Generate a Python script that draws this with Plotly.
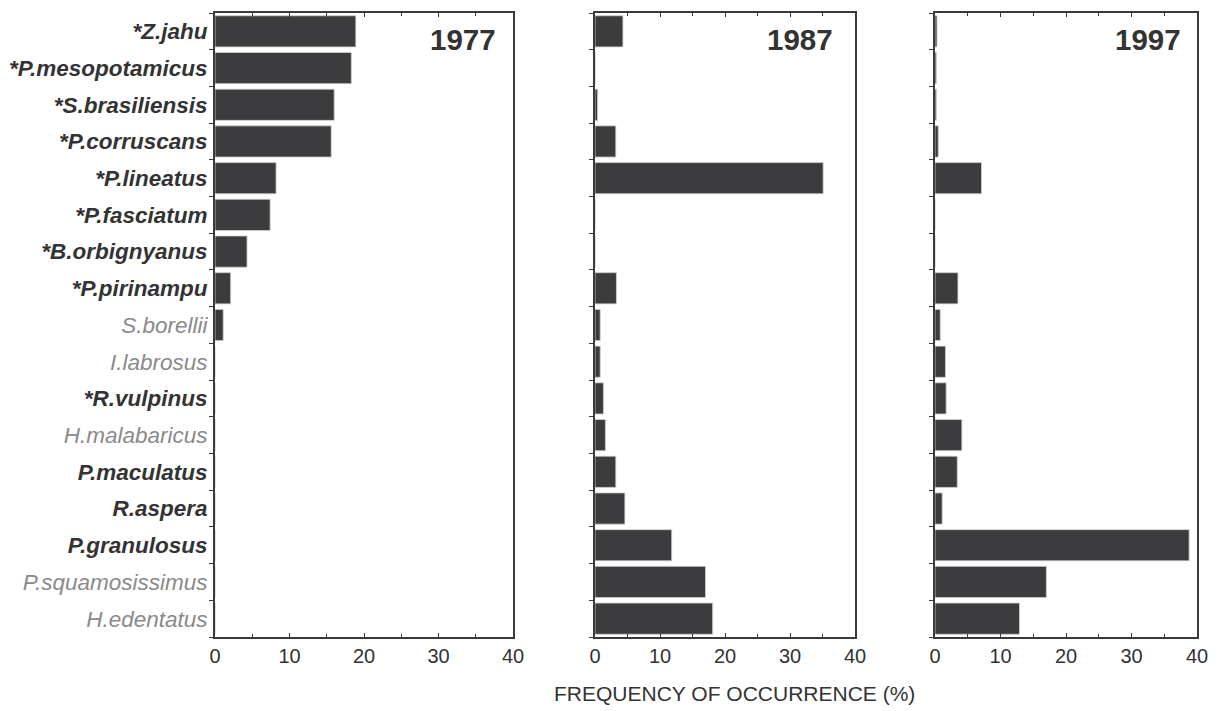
import plotly.graph_objects as go

species = ["*Z.jahu", "*P.mesopotamicus", "*S.brasiliensis", "*P.corruscans", "*P.lineatus",
           "*P.fasciatum", "*B.orbignyanus", "*P.pirinampu", "S.borellii", "I.labrosus",
           "*R.vulpinus", "H.malabaricus", "P.maculatus", "R.aspera", "P.granulosus",
           "P.squamosissimus", "H.edentatus"]
bold_label = [True, True, True, True, True, True, True, True, False, False,
              True, False, True, True, True, False, False]

freq_1977 = [18.9, 18.3, 16.0, 15.6, 8.2, 7.4, 4.3, 2.1, 1.1, 0, 0, 0, 0, 0, 0, 0, 0]
freq_1987 = [4.3, 0, 0.4, 3.2, 35.1, 0, 0, 3.3, 0.8, 0.8, 1.3, 1.6, 3.2, 4.6, 11.8, 17.0, 18.1]
freq_1997 = [0.3, 0.2, 0.2, 0.5, 7.1, 0, 0, 3.5, 0.8, 1.6, 1.7, 4.1, 3.4, 1.1, 38.8, 17.0, 12.9]
years = ["1977", "1987", "1997"]
x_ticks = [0, 10, 20, 30, 40]

# page has an 8px body margin; figure sized to fit the window
OFF = 8
W, H = 1220 - OFF, 711 - OFF
MT = 13 - OFF
PLOT_BOTTOM = 637 - OFF
MB = H - PLOT_BOTTOM
ML, MR = 0, 0
pw = W - ML - MR
def px2dom(a, b):
    return [(a - OFF - ML) / pw, (b - OFF - ML) / pw]

domains = [px2dom(215, 513), px2dom(595, 855), px2dom(935, 1197)]
year_x = [0.95, 0.923, 0.947]

ticktext = []
for s, b in zip(species, bold_label):
    if b:
        ticktext.append(f"<b><i>{s}</i></b>")
    else:
        ticktext.append(f"<span style='color:#8a8a8a'><i>{s}</i></span>")

BAR = "#3c3c3e"
AX = "#3a3a3a"
fig = go.Figure()
series = [freq_1977, freq_1987, freq_1997]
for i, vals in enumerate(series):
    suf = "" if i == 0 else str(i + 1)
    fig.add_trace(go.Bar(
        x=vals, y=species, orientation="h",
        marker=dict(color=BAR, line=dict(color="#d0d0d0", width=0.8)),
        xaxis="x" + suf, yaxis="y" + suf, showlegend=False,
    ))

layout = dict(
    width=W, height=H,
    margin=dict(l=ML, r=MR, t=MT, b=MB),
    paper_bgcolor="white", plot_bgcolor="white",
    bargap=0.15,
    font=dict(family="Liberation Sans, Arial, sans-serif", color="#333333", size=20),
    annotations=[],
)
for i in range(3):
    suf = "" if i == 0 else str(i + 1)
    layout["xaxis" + suf] = dict(
        domain=domains[i], range=[0, 40], anchor="y" + suf,
        tickvals=x_ticks, ticktext=[str(t) for t in x_ticks],
        ticks="inside", ticklen=4, tickcolor=AX, tickwidth=1,
        minor=dict(dtick=5, ticks="inside", ticklen=3, tickcolor=AX),
        showline=True, linecolor=AX, linewidth=2, mirror="ticks",
        showgrid=False, zeroline=False, automargin=False,
        tickfont=dict(size=20, color="#333333"),
        fixedrange=True,
    )
    layout["yaxis" + suf] = dict(
        domain=[0, 1], anchor="x" + suf, type="category",
        categoryorder="array", categoryarray=species,
        autorange="reversed",
        tickmode="array", tickvals=species, ticktext=ticktext,
        showticklabels=(i == 0),
        tickson="boundaries",
        ticks="outside", ticklen=4, tickcolor=AX,
        showline=True, linecolor=AX, linewidth=2, mirror=True,
        showgrid=False, zeroline=False, automargin=False,
        tickfont=dict(size=22.5, color="#333333"),
        ticklabelstandoff=1,
        fixedrange=True,
    )
    layout["annotations"].append(dict(
        text=f"<b>{years[i]}</b>", xref="x" + suf + " domain", yref="y" + suf + " domain",
        x=year_x[i], y=0.957, xanchor="right", yanchor="middle", showarrow=False,
        font=dict(size=29.5, color="#333333"),
    ))

layout["annotations"].append(dict(
    text="FREQUENCY OF OCCURRENCE (%)", xref="paper", yref="paper",
    x=(734.5 - OFF) / W, y=-(694 - 637) / (PLOT_BOTTOM - MT), xanchor="center", yanchor="middle",
    showarrow=False, font=dict(size=21, color="#333333"),
))

fig.update_layout(**layout)
fig.write_html("out.html")
